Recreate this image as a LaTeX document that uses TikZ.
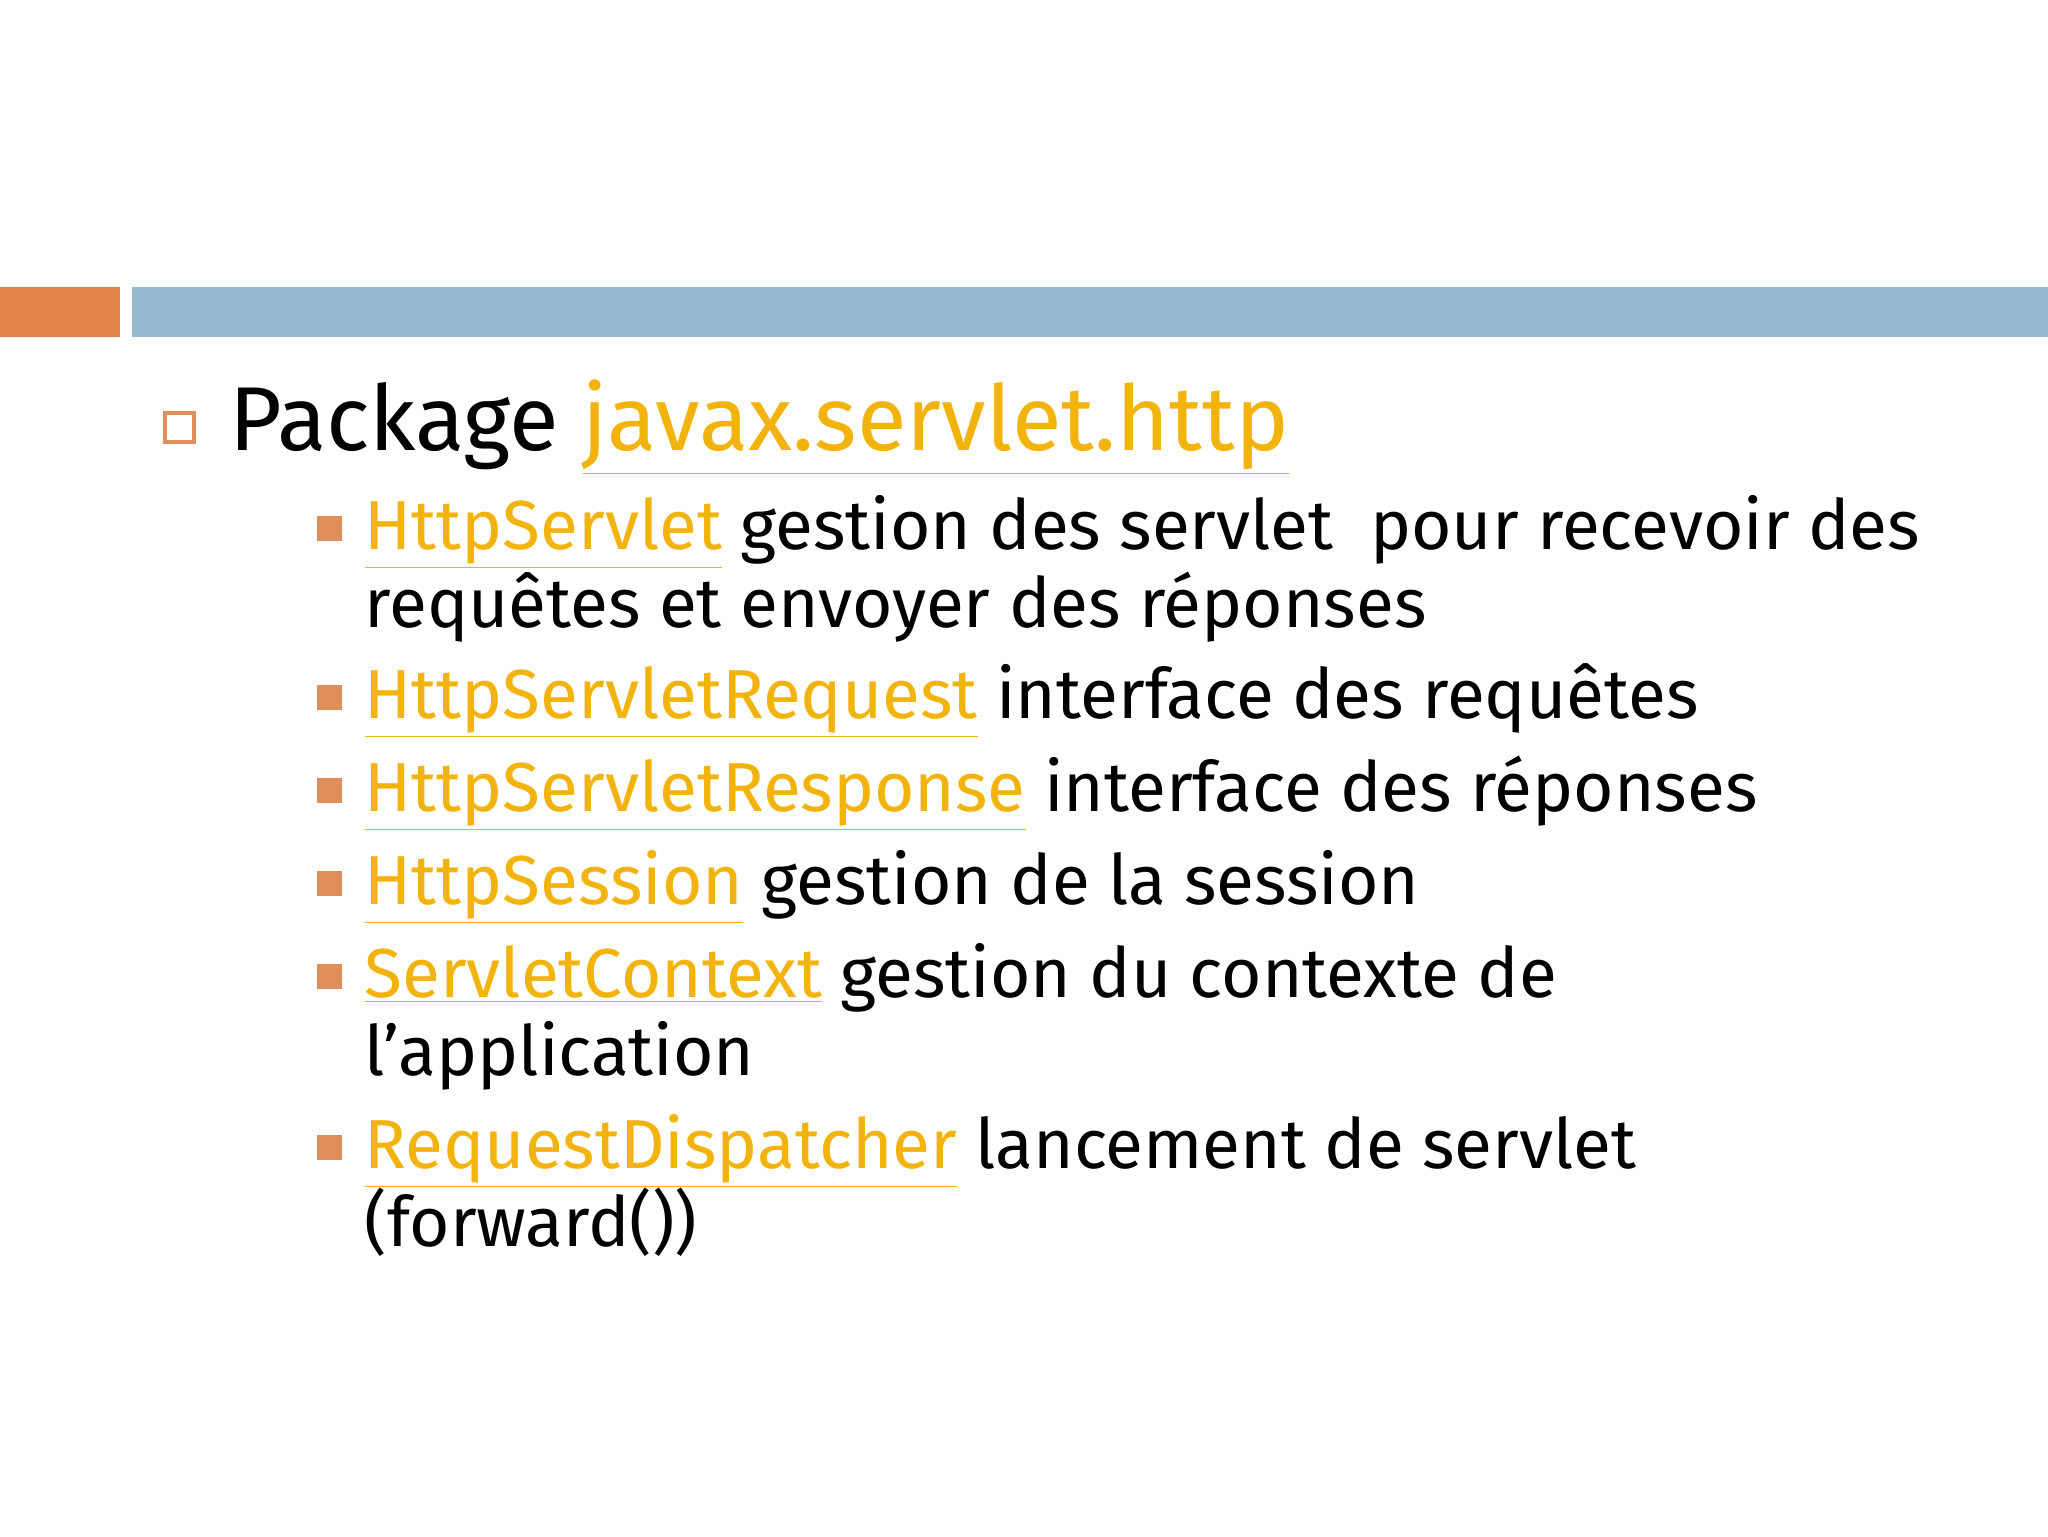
\documentclass[tikz,border=0pt]{standalone}
\usepackage{fontspec}
\setmainfont{Fira Sans}
\definecolor{orbar}{HTML}{E0844A}
\definecolor{blbar}{HTML}{95B8D1}
\definecolor{lnk}{HTML}{F2B40C}
\definecolor{bul}{HTML}{E08E5A}
\begin{document}
\begin{tikzpicture}[x=0.375pt,y=-0.375pt,
  lone/.style={anchor=base west,inner sep=0pt,font=\fontsize{34}{40}\selectfont},
  ltwo/.style={anchor=base west,inner sep=0pt,font=\fontsize{26}{32}\selectfont},
  bsq/.style={fill=bul,draw=none}]
\useasboundingbox (0,0) rectangle (2048,1536);
\fill[white] (0,0) rectangle (2048,1536);
\fill[orbar] (0,287) rectangle (120,337);
\fill[blbar] (132,287) rectangle (2048,337);
\draw[bul,line width=1.2pt] (165,413) rectangle (194,442);
\node[lone] (t0) at (229,450) {Package \textcolor{lnk}{\underline{javax.servlet.http}}};
\foreach \y in {549,718,811,904,997,1168}{\fill[bul] (317,\y-33) rectangle (342,\y-8);}
\node[ltwo] (a1) at (364,549) {\textcolor{lnk}{\underline{HttpServlet}} gestion des servlet\ \ pour recevoir des};
\node[ltwo] (a2) at (364,627) {requêtes et envoyer des réponses};
\node[ltwo] (b) at (364,718) {\textcolor{lnk}{\underline{HttpServletRequest}} interface des requêtes};
\node[ltwo] (c) at (364,811) {\textcolor{lnk}{\underline{HttpServletResponse}} interface des réponses};
\node[ltwo] (d) at (364,904) {\textcolor{lnk}{\underline{HttpSession}} gestion de la session};
\node[ltwo] (e1) at (364,997) {\textcolor{lnk}{\underline{ServletContext}} gestion du contexte de};
\node[ltwo] (e2) at (364,1075) {l'application};
\node[ltwo] (f1) at (364,1168) {\textcolor{lnk}{\underline{RequestDispatcher}} lancement de servlet};
\node[ltwo] (f2) at (364,1246) {(forward())};
\end{tikzpicture}
\end{document}
